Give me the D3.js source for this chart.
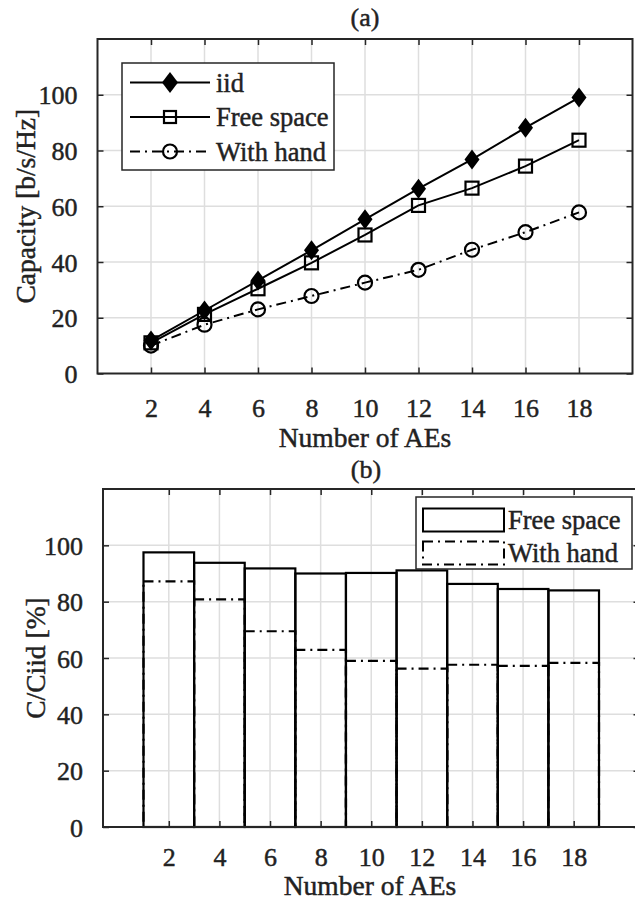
<!DOCTYPE html>
<html><head><meta charset="utf-8">
<script src="https://cdn.jsdelivr.net/npm/d3@7"></script>
<style>
body{margin:0;background:#fff}
svg{display:block}
text{font-family:"Liberation Serif","Times New Roman",serif;fill:#222;stroke:#222;stroke-width:0.45px}
</style>
</head><body><svg id="c" width="635" height="902"></svg>
<script>
// ---- data ----
const numAEs = [2, 4, 6, 8, 10, 12, 14, 16, 18];
const capIid = [11.8, 22.6, 33.4, 44.2, 55.3, 66.3, 76.8, 88.2, 99.0];
const capFree = [11.0, 21.2, 30.4, 39.7, 49.7, 60.3, 66.5, 74.4, 83.7];
const capHand = [10.0, 17.5, 23.0, 27.8, 32.6, 37.2, 44.4, 50.7, 57.8];
const ratioFree = [97.5, 93.8, 91.8, 90.0, 90.2, 91.1, 86.3, 84.5, 84.0];
const ratioHand = [87.2, 80.8, 69.5, 62.9, 59.0, 56.2, 57.6, 57.2, 58.3];
const xTicks = [2, 4, 6, 8, 10, 12, 14, 16, 18];
const yTicks = [0, 20, 40, 60, 80, 100];
const seriesNamesA = ["iid", "Free space", "With hand"];
const seriesNamesB = ["Free space", "With hand"];

const svg = d3.select("#c");
const AX = "#262626", GRID = "#dedede", DASHDOT = "10,5,2,5";
const FONT = "Liberation Serif";

function frame(g, x, y, L, R, T, B) {
  g.append("g").selectAll("line").data(xTicks).join("line")
    .attr("x1", d => x(d)).attr("x2", d => x(d)).attr("y1", T).attr("y2", B)
    .attr("stroke", GRID).attr("stroke-width", 1.5);
  g.append("g").selectAll("line").data(yTicks.slice(1)).join("line")
    .attr("x1", L).attr("x2", R).attr("y1", d => y(d)).attr("y2", d => y(d))
    .attr("stroke", GRID).attr("stroke-width", 1.5);
}
function axes(g, x, y, L, R, T, B, xLabY, yPad) {
  const bx = g.append("g").attr("transform", `translate(0,${B})`)
    .call(d3.axisBottom(x).tickValues(xTicks).tickSize(-6).tickPadding(0));
  bx.selectAll("text").attr("y", xLabY).attr("dy", "0.35em");
  const tx = g.append("g").attr("transform", `translate(0,${T})`)
    .call(d3.axisTop(x).tickValues(xTicks).tickSize(-6).tickFormat(""));
  const ly = g.append("g").attr("transform", `translate(${L},0)`)
    .call(d3.axisLeft(y).tickValues(yTicks).tickSize(-6).tickPadding(yPad));
  ly.selectAll("text").attr("dy", "0.35em");
  const ry = g.append("g").attr("transform", `translate(${R},0)`)
    .call(d3.axisRight(y).tickValues(yTicks).tickSize(-6).tickFormat(""));
  [bx, tx, ly, ry].forEach(a => {
    a.attr("font-family", FONT).attr("font-size", 26);
    a.select(".domain").remove();
    a.selectAll(".tick line").attr("stroke", AX).attr("stroke-width", 1.5);
    a.selectAll("text").attr("fill", "#222");
  });
  g.append("rect").attr("x", L).attr("y", T).attr("width", R - L).attr("height", B - T)
    .attr("fill", "none").attr("stroke", AX).attr("stroke-width", 2);
}

// ================= (a) =================
{
  const L = 97.5, R = 632.5, T = 39, B = 373.5;
  const x = d3.scaleLinear().domain([0, 20]).range([L, R]);
  const y = d3.scaleLinear().domain([0, 120]).range([B, T]);
  const g = svg.append("g");
  frame(g, x, y, L, R, T, B);

  const line = d3.line().x((d, i) => x(numAEs[i])).y(d => y(d));
  const diamond = "M0,-10 L7.5,0 L0,10 L-7.5,0Z";
  g.append("path").attr("d", line(capIid)).attr("fill", "none").attr("stroke", "#000").attr("stroke-width", 2);
  g.append("g").selectAll("path").data(capIid).join("path")
    .attr("transform", (d, i) => `translate(${x(numAEs[i])},${y(d)})`)
    .attr("d", diamond).attr("fill", "#000");
  g.append("path").attr("d", line(capFree)).attr("fill", "none").attr("stroke", "#000").attr("stroke-width", 2);
  g.append("g").selectAll("rect").data(capFree).join("rect")
    .attr("x", (d, i) => x(numAEs[i]) - 6.5).attr("y", d => y(d) - 6.5)
    .attr("width", 13).attr("height", 13).attr("fill", "none").attr("stroke", "#000").attr("stroke-width", 2.2);
  g.append("path").attr("d", line(capHand)).attr("fill", "none").attr("stroke", "#000").attr("stroke-width", 2)
    .attr("stroke-dasharray", DASHDOT);
  g.append("g").selectAll("circle").data(capHand).join("circle")
    .attr("cx", (d, i) => x(numAEs[i])).attr("cy", d => y(d)).attr("r", 7)
    .attr("fill", "none").attr("stroke", "#000").attr("stroke-width", 2.2);

  axes(g, x, y, L, R, T, B, 34, 20);

  g.append("text").attr("x", (L + R) / 2).attr("y", 17).attr("dy", "0.35em").attr("text-anchor", "middle")
    .style("font-size", "26px").text("(a)");
  g.append("text").attr("x", (L + R) / 2).attr("y", 437).attr("dy", "0.35em").attr("text-anchor", "middle")
    .style("font-size", "27.5px").text("Number of AEs");
  g.append("text").attr("transform", `translate(25,${(T + B) / 2}) rotate(-90)`).attr("dy", "0.35em")
    .attr("text-anchor", "middle").style("font-size", "27.5px").text("Capacity [b/s/Hz]");

  const lg = g.append("g");
  lg.append("rect").attr("x", 122).attr("y", 63).attr("width", 212).attr("height", 107)
    .attr("fill", "#fff").attr("stroke", AX).attr("stroke-width", 1.5);
  const rows = [82.5, 117, 151.5];
  seriesNamesA.forEach((nm, i) => {
    const yy = rows[i];
    const ln = lg.append("line").attr("x1", 130).attr("x2", 210).attr("y1", yy).attr("y2", yy)
      .attr("stroke", "#000").attr("stroke-width", 2);
    if (i === 0) lg.append("path").attr("transform", `translate(170,${yy})`).attr("d", "M0,-10.5 L8,0 L0,10.5 L-8,0Z").attr("fill", "#000");
    if (i === 1) lg.append("rect").attr("x", 164).attr("y", yy - 6).attr("width", 12).attr("height", 12)
      .attr("fill", "none").attr("stroke", "#000").attr("stroke-width", 2.2);
    if (i === 2) {
      ln.attr("stroke-dasharray", DASHDOT);
      lg.append("circle").attr("cx", 170).attr("cy", yy).attr("r", 7).attr("fill", "none").attr("stroke", "#000").attr("stroke-width", 2.2);
    }
    lg.append("text").attr("x", 216).attr("y", yy).attr("dy", "0.35em").style("font-size", "26.5px").text(nm);
  });
}

// ================= (b) =================
{
  const L = 103, R = 639.5, T = 489, B = 827;
  const x = d3.scaleLinear().domain([-0.6, 20.6]).range([L, R]);
  const y = d3.scaleLinear().domain([0, 120]).range([B, T]);
  const g = svg.append("g");
  frame(g, x, y, L, R, T, B);

  g.append("g").selectAll("rect").data(ratioFree).join("rect")
    .attr("x", (d, i) => x(numAEs[i] - 1)).attr("width", (d, i) => x(numAEs[i] + 1) - x(numAEs[i] - 1))
    .attr("y", d => y(d)).attr("height", d => B - y(d))
    .attr("fill", "none").attr("stroke", "#000").attr("stroke-width", 2.2);
  g.append("g").selectAll("rect").data(ratioHand).join("rect")
    .attr("x", (d, i) => x(numAEs[i] - 1)).attr("width", (d, i) => x(numAEs[i] + 1) - x(numAEs[i] - 1))
    .attr("y", d => y(d)).attr("height", d => B - y(d))
    .attr("fill", "none").attr("stroke", "#000").attr("stroke-width", 2.2).attr("stroke-dasharray", DASHDOT);

  axes(g, x, y, L, R, T, B, 30, 20);

  g.append("text").attr("x", 366).attr("y", 469).attr("dy", "0.35em").attr("text-anchor", "middle")
    .style("font-size", "26px").text("(b)");
  g.append("text").attr("x", 370).attr("y", 885).attr("dy", "0.35em").attr("text-anchor", "middle")
    .style("font-size", "27.5px").text("Number of AEs");
  g.append("text").attr("transform", `translate(35,${(T + B) / 2}) rotate(-90)`).attr("dy", "0.35em")
    .attr("text-anchor", "middle").style("font-size", "27.5px").text("C/Ciid [%]");

  const lg = g.append("g");
  lg.append("rect").attr("x", 416).attr("y", 497).attr("width", 216).attr("height", 72)
    .attr("fill", "#fff").attr("stroke", AX).attr("stroke-width", 1.5);
  const rows = [520, 553];
  seriesNamesB.forEach((nm, i) => {
    const yy = rows[i];
    const r = lg.append("rect").attr("x", 423).attr("y", yy - 11.5).attr("width", 81).attr("height", 23)
      .attr("fill", "none").attr("stroke", "#000").attr("stroke-width", 2);
    if (i === 1) r.attr("stroke-dasharray", DASHDOT);
    lg.append("text").attr("x", 508).attr("y", yy).attr("dy", "0.35em").style("font-size", "26.5px").text(nm);
  });
}
</script>
</body></html>
